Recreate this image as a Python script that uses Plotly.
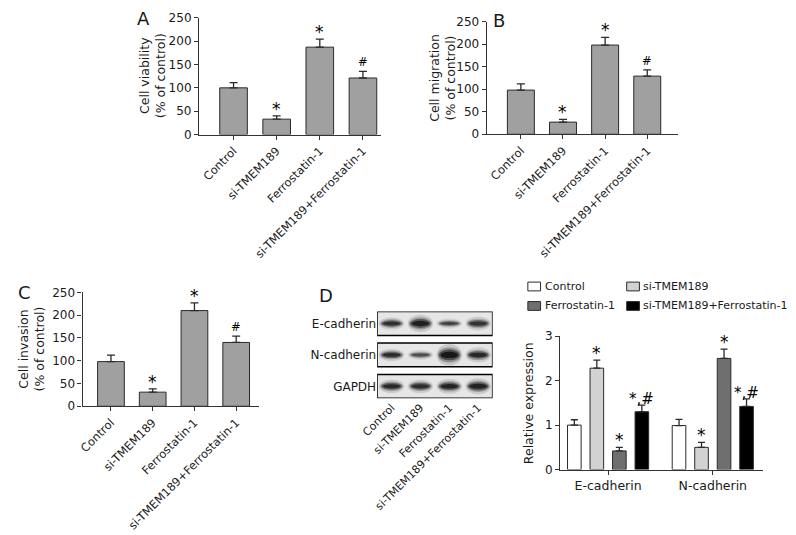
import plotly.graph_objects as go

W, H = 796, 535
FONT = "DejaVu Sans"
TXT = "#1a1a1a"

# ---------------- data ----------------
groups = ["Control", "si-TMEM189", "Ferrostatin-1", "si-TMEM189+Ferrostatin-1"]

viab_mean = [100, 33, 187, 121]
viab_err = [11, 7, 17, 14]
viab_sig = ["", "*", "*", "#"]

migr_mean = [98, 27, 198, 129]
migr_err = [14, 6, 17, 14]
migr_sig = ["", "*", "*", "#"]

inva_mean = [98, 31, 210, 140]
inva_err = [14, 7, 17, 14]
inva_sig = ["", "*", "*", "#"]

proteins = ["E-cadherin", "N-cadherin"]
expr_mean = {
    "Control": [1.00, 0.99],
    "si-TMEM189": [2.28, 0.50],
    "Ferrostatin-1": [0.42, 2.50],
    "si-TMEM189+Ferrostatin-1": [1.30, 1.42],
}
expr_err = {
    "Control": [0.12, 0.14],
    "si-TMEM189": [0.18, 0.11],
    "Ferrostatin-1": [0.08, 0.21],
    "si-TMEM189+Ferrostatin-1": [0.15, 0.17],
}
expr_sig = {
    "Control": ["", ""],
    "si-TMEM189": ["*", "*"],
    "Ferrostatin-1": ["*", "*"],
    "si-TMEM189+Ferrostatin-1": ["*,#", "*,#"],
}
expr_colors = ["#ffffff", "#d2d2d2", "#6f6f6f", "#000000"]

blot_rows = ["GAPDH", "N-cadherin", "E-cadherin"]
band_intensity = {
    "E-cadherin": [0.75, 0.9, 0.62, 0.72],
    "N-cadherin": [0.78, 0.55, 1.0, 0.82],
    "GAPDH": [0.8, 0.78, 0.85, 0.88],
}
band_height = {
    "E-cadherin": [0.20, 0.28, 0.16, 0.22],
    "N-cadherin": [0.20, 0.16, 0.34, 0.24],
    "GAPDH": [0.22, 0.22, 0.24, 0.26],
}


def fx(p):
    return p / W


def fy(p):
    return 1 - p / H


fig = go.Figure()

BAR_GRAY = "#a0a0a0"
EDGE = "#2a2a2a"
STAR = 17

panels = [
    ("x", "y", viab_mean, viab_err, viab_sig),
    ("x2", "y2", migr_mean, migr_err, migr_sig),
    ("x3", "y3", inva_mean, inva_err, inva_sig),
]
annotations = []
for xa, ya, m, e, s in panels:
    fig.add_trace(go.Bar(
        x=groups, y=m, xaxis=xa, yaxis=ya, width=0.64,
        marker=dict(color=BAR_GRAY, line=dict(color=EDGE, width=1)),
        error_y=dict(type="data", symmetric=False, array=e, arrayminus=[0] * 4,
                     color=EDGE, thickness=1.3, width=4),
        showlegend=False,
    ))
    for g, v, er, sg in zip(groups, m, e, s):
        if sg:
            annotations.append(dict(
                x=g, y=v + er, xref=xa, yref=ya, text=sg, showarrow=False,
                yanchor="bottom", yshift=-5 if sg == "*" else 0,
                font=dict(size=STAR if sg == "*" else 11.5, color="#000", family=FONT)))

# Panel D bar chart (explicit offsets inside each protein group)
pitch = 0.215
bw = 0.13
for gi, (name, col) in enumerate(zip(groups, expr_colors)):
    off = -2 * pitch + pitch * gi + (pitch - bw) / 2
    fig.add_trace(go.Bar(
        x=proteins, y=expr_mean[name], name=name, xaxis="x4", yaxis="y4",
        offset=off, width=bw,
        marker=dict(color=col, line=dict(color=EDGE, width=1)),
        error_y=dict(type="data", symmetric=False, array=expr_err[name],
                     arrayminus=[0, 0], color=EDGE, thickness=1.3, width=3.5),
        showlegend=False,
    ))
    for pi, prot in enumerate(proteins):
        sg = expr_sig[name][pi]
        if sg:
            annotations.append(dict(
                x=pi + off + bw / 2, y=expr_mean[name][pi] + expr_err[name][pi],
                xref="x4", yref="y4", text=sg, showarrow=False, yanchor="bottom",
                yshift=-5,
                font=dict(size=STAR if sg == "*" else 15, color="#000", family=FONT)))

# invisible trace that establishes the blot axes
fig.add_trace(go.Scatter(x=groups, y=[0, 0, 0, 0], xaxis="x5", yaxis="y5",
                         mode="markers", marker=dict(opacity=0), showlegend=False,
                         hoverinfo="skip"))

shapes = []
for ri, row in enumerate(blot_rows):
    shapes.append(dict(type="rect", xref="x5", yref="y5", x0=-0.5, x1=3.5,
                       y0=ri - 0.38, y1=ri + 0.38, fillcolor="#e6e6e6",
                       line=dict(color="#000", width=1.5), layer="below"))
    for li in range(4):
        it = band_intensity[row][li]
        hh = band_height[row][li]
        for sc_w, sc_h, op in [(0.44, 2.0, 0.15), (0.40, 1.4, 0.3), (0.36, 1.0, 0.55), (0.30, 0.6, 0.9)]:
            shapes.append(dict(type="circle", xref="x5", yref="y5",
                               x0=li - sc_w, x1=li + sc_w,
                               y0=ri - hh * sc_h / 2, y1=ri + hh * sc_h / 2,
                               fillcolor="#141414", opacity=op * it,
                               line=dict(width=0), layer="below"))

# Legend for D (manual)
leg_pos = [(522, 287), (623, 287), (522, 307), (623, 307)]
for (lx, ly), name, col in zip(leg_pos, groups, expr_colors):
    shapes.append(dict(type="rect", xref="paper", yref="paper",
                       x0=fx(lx), x1=fx(lx + 13), y0=fy(ly + 4.5), y1=fy(ly - 4.5),
                       fillcolor=col, line=dict(color=EDGE, width=1)))
    annotations.append(dict(x=fx(lx + 15), y=fy(ly), xref="paper", yref="paper",
                            text=name, showarrow=False, xanchor="left", yanchor="middle",
                            font=dict(size=11, color=TXT, family=FONT)))

titles = [
    (138, 71, "Cell viability<br>(% of control)"),
    (434, 73, "Cell migration<br>(% of control)"),
    (15, 351, "Cell invasion<br>(% of control)"),
    (523, 407, "Relative expression"),
]
for tx, ty, t in titles:
    annotations.append(dict(x=fx(tx), y=fy(ty), xref="paper", yref="paper", text=t,
                            textangle=-90, showarrow=False, xanchor="center", yanchor="middle",
                            font=dict(size=12.5, color=TXT, family=FONT)))
for tx, ty, t in [(129, 12, "A"), (493, 14, "B"), (8, 293, "C"), (316, 296, "D")]:
    annotations.append(dict(x=fx(tx), y=fy(ty), xref="paper", yref="paper", text=t,
                            showarrow=False, xanchor="center", yanchor="middle",
                            font=dict(size=18, color=TXT, family=FONT)))

axis_common = dict(showline=True, linecolor="#333", linewidth=1.2, ticks="outside",
                   ticklen=4, tickcolor="#333", tickwidth=1.2, showgrid=False,
                   zeroline=False, tickfont=dict(size=11.5, color=TXT, family=FONT))

xcat = dict(axis_common, tickangle=-45, type="category",
            tickfont=dict(size=11.5, color=TXT, family=FONT))


def ydef(top, bottom, rng, dtick, anchor):
    return dict(axis_common, domain=[fy(bottom), fy(top)], range=rng, dtick=dtick,
                anchor=anchor, tickfont=dict(size=12, color=TXT, family=FONT))


fig.update_layout(
    width=W, height=H, autosize=False,
    margin=dict(l=0, r=0, t=0, b=0, pad=0),
    paper_bgcolor="white", plot_bgcolor="white",
    font=dict(family=FONT, color=TXT),
    barmode="overlay",
    xaxis=dict(xcat, domain=[fx(186), fx(372)], range=[-0.8, 3.42], anchor="y"),
    yaxis=ydef(11, 131, [0, 250], 50, "x"),
    xaxis2=dict(xcat, domain=[fx(480), fx(675)], range=[-0.81, 3.72], anchor="y2"),
    yaxis2=ydef(15, 130.7, [0, 250], 50, "x2"),
    xaxis3=dict(xcat, domain=[fx(67), fx(247)], range=[-0.68, 3.54], anchor="y3"),
    yaxis3=ydef(293, 410, [0, 250], 50, "x3"),
    xaxis4=dict(axis_common, domain=[fx(555), fx(762)], range=[-0.458, 1.477],
                anchor="y4", type="category", tickfont=dict(size=12.5, color=TXT, family=FONT)),
    yaxis4=ydef(338, 475, [0, 3], 1, "x4"),
    xaxis5=dict(domain=[fx(368), fx(486)], range=[-0.5, 3.5], anchor="y5", type="category",
                showline=False, ticks="", showgrid=False, zeroline=False, tickangle=-45,
                tickfont=dict(size=11, color=TXT, family=FONT)),
    yaxis5=dict(domain=[fy(401.75), fy(312.75)], range=[-0.38, 2.38], anchor="x5",
                showline=False, ticks="", showgrid=False, zeroline=False,
                tickvals=[0, 1, 2], ticktext=blot_rows,
                tickfont=dict(size=12, color=TXT, family=FONT)),
    shapes=shapes,
    annotations=annotations,
)

fig.write_html("out.html", config={"displayModeBar": False},
               post_script="document.body.style.margin='0';")
